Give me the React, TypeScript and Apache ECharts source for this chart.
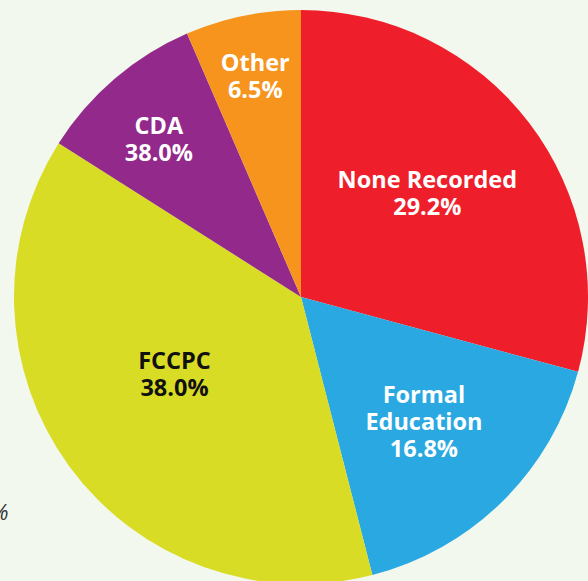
import React, { useEffect, useRef } from "react";
import * as echarts from "echarts";

const categories = ["None Recorded", "Formal Education", "FCCPC", "CDA", "Other"];
const values = [29.2, 16.8, 38.0, 9.5, 6.5];
const labelTexts = ["None Recorded\n29.2%", "Formal\nEducation\n16.8%", "FCCPC\n38.0%", "CDA\n38.0%", "Other\n6.5%"];
const colors = ["#ee1f2a", "#29a8e1", "#d9dc24", "#93298a", "#f7941d"];
const labelColors = ["#ffffff", "#ffffff", "#111111", "#ffffff", "#ffffff"];
const labelOffsets = [[10, -15], [20, 20], [-8, -10], [-47, -47], [-16, -78]];

export default function App() {
  const ref = useRef<HTMLDivElement>(null);
  useEffect(() => {
    if (!ref.current) return;
    const chart = echarts.init(ref.current, undefined, { renderer: "svg" });
    chart.setOption({
      animation: false,
      backgroundColor: "#f3f8ee",
      graphic: [
        {
          type: "text",
          left: -9,
          top: 500,
          style: {
            text: "%",
            fontSize: 22,
            fontStyle: "italic",
            fontFamily: "Open Sans",
            fill: "#333333",
          },
        },
      ],
      series: [
        {
          type: "pie",
          center: [301, 297],
          radius: [0, 287],
          startAngle: 90,
          clockwise: true,
          avoidLabelOverlap: false,
          itemStyle: { borderWidth: 0 },
          label: {
            show: true,
            position: "inside",
            fontFamily: "Open Sans",
            fontWeight: "bold",
            fontSize: 23.5,
            lineHeight: 27,
            align: "center",
          },
          labelLine: { show: false },
          emphasis: { disabled: true },
          data: categories.map((name, i) => ({
            name,
            value: values[i],
            itemStyle: { color: colors[i] },
            label: {
              formatter: labelTexts[i],
              color: labelColors[i],
              offset: labelOffsets[i],
            },
          })),
        },
      ],
    });
    return () => chart.dispose();
  }, []);
  return <div ref={ref} style={{ position: "fixed", left: 0, top: 0, width: 588, height: 581 }} />;
}
